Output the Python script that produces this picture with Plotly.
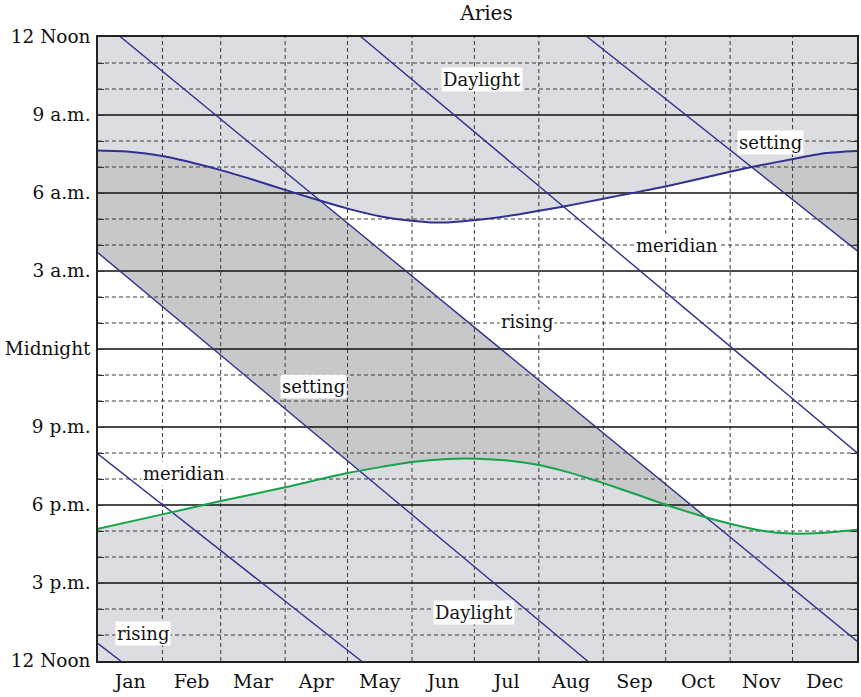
import numpy as np
import plotly.graph_objects as go

# ---------------- data ----------------
title_text = "Aries"
month_names = ["Jan", "Feb", "Mar", "Apr", "May", "Jun",
               "Jul", "Aug", "Sep", "Oct", "Nov", "Dec"]
month_days = [31, 28, 31, 30, 31, 30, 31, 31, 30, 31, 30, 31]
hour_ticks = [0, 3, 6, 9, 12, 15, 18, 21, 24]
hour_labels = ["12 Noon", "3 p.m.", "6 p.m.", "9 p.m.", "Midnight",
               "3 a.m.", "6 a.m.", "9 a.m.", "12 Noon"]

# hours after noon (0..24), day of year (0..365)
sunrise_day = [0, 15, 31, 59, 75, 90, 107, 120, 136, 152, 160, 168, 182,
               200, 212, 224, 243, 257, 274, 305, 315, 335, 350, 365]
sunrise_hour = [19.63, 19.59, 19.42, 18.88, 18.50, 18.12, 17.70, 17.40, 17.10,
                16.92, 16.87, 16.87, 16.96, 17.15, 17.32, 17.48, 17.78, 18.00,
                18.27, 18.84, 19.01, 19.32, 19.54, 19.62]

sunset_day = [0, 31, 59, 90, 120, 151, 168, 182, 197, 212, 222, 232, 243,
              258, 273, 291, 304, 318, 334, 347, 365]
sunset_hour = [5.09, 5.64, 6.15, 6.68, 7.23, 7.65, 7.77, 7.78, 7.71, 7.54,
               7.35, 7.12, 6.84, 6.43, 6.01, 5.56, 5.28, 5.03, 4.90, 4.92, 5.05]

# unwrapped event times (hours after noon, may exceed 24)
rising_day = [0, 10.9, 365]
rising_hour = [24.67, 24.0, 0.76]
meridian_day = [0, 126.6, 365]
meridian_hour = [31.96, 24.0, 8.01]
setting_day = [0, 235.4, 365]
setting_hour = [39.70, 24.0, 15.78]

label_text = ["Daylight", "Daylight", "setting", "setting",
              "meridian", "meridian", "rising", "rising"]
label_day = [184.5, 180.8, 323.5, 103.5, 278.3, 41.5, 206.2, 21.8]
label_hour = [22.37, 1.88, 19.93, 10.55, 16.0, 7.23, 13.05, 1.05]

# ---------------- styles ----------------
LIGHT = "#dcdde0"
DARK = "#c7c8ca"
BLUE = "#2e3192"
GREEN = "#17a34a"
GRID = "#3a3a3a"
FONT = "DejaVu Serif"

fig = go.Figure()

# dark band: night-time, constellation below horizon (between setting and next rising)
band_days = sorted(set(rising_day) | set(setting_day))
upper = np.interp(band_days, rising_day, rising_hour) + 24
lower = np.interp(band_days, setting_day, setting_hour)
for k in (-48, -24, 0):
    xs = list(band_days) + list(band_days[::-1])
    ys = list(upper + k) + list((lower + k)[::-1])
    fig.add_trace(go.Scatter(x=xs, y=ys, mode="lines", fill="toself",
                             fillcolor=DARK, line=dict(width=0),
                             hoverinfo="skip", showlegend=False))

SPL = dict(shape="spline", smoothing=0.6)

# daylight (morning side: above sunrise to the top)
fig.add_trace(go.Scatter(x=[0, 365], y=[24, 24], mode="lines",
                         line=dict(width=0), hoverinfo="skip", showlegend=False))
fig.add_trace(go.Scatter(x=sunrise_day, y=sunrise_hour, mode="lines",
                         line=dict(width=0, **SPL),
                         fill="tonexty", fillcolor=LIGHT,
                         hoverinfo="skip", showlegend=False))
# daylight (afternoon side: below sunset)
fig.add_trace(go.Scatter(x=sunset_day, y=sunset_hour, mode="lines",
                         line=dict(width=0, **SPL),
                         fill="tozeroy", fillcolor=LIGHT,
                         hoverinfo="skip", showlegend=False))

# grid lines
bounds = list(np.cumsum(month_days)[:-1])
gx, gy = [], []
for b in bounds:
    gx += [b, b, None]
    gy += [0, 24, None]
for h in range(1, 24):
    if h % 3:
        gx += [0, 365, None]
        gy += [h, h, None]
fig.add_trace(go.Scatter(x=gx, y=gy, mode="lines",
                         line=dict(color=GRID, width=1, dash="4px,3px"),
                         hoverinfo="skip", showlegend=False))
sx, sy = [], []
for h in hour_ticks[1:-1]:
    sx += [0, 365, None]
    sy += [h, h, None]
fig.add_trace(go.Scatter(x=sx, y=sy, mode="lines",
                         line=dict(color="#111111", width=1.3),
                         hoverinfo="skip", showlegend=False))

# rising / meridian / setting lines (wrapped every 24 h)
for dd, hh in ((rising_day, rising_hour), (meridian_day, meridian_hour),
               (setting_day, setting_hour)):
    for k in (-24, 0):
        fig.add_trace(go.Scatter(x=dd, y=[v + k for v in hh], mode="lines",
                                 line=dict(color=BLUE, width=1.4),
                                 hoverinfo="skip", showlegend=False))

# sunrise / sunset curves
fig.add_trace(go.Scatter(x=sunrise_day, y=sunrise_hour, mode="lines",
                         line=dict(color=BLUE, width=2, **SPL),
                         hoverinfo="skip", showlegend=False))
fig.add_trace(go.Scatter(x=sunset_day, y=sunset_hour, mode="lines",
                         line=dict(color=GREEN, width=2, **SPL),
                         hoverinfo="skip", showlegend=False))

for t, d, h in zip(label_text, label_day, label_hour):
    fig.add_annotation(x=d, y=h, text=t, showarrow=False,
                       font=dict(family=FONT, size=18, color="#111111"),
                       bgcolor="white", borderpad=1)

month_centers = [c - m / 2 for c, m in zip(np.cumsum(month_days), month_days)]

fig.update_layout(
    width=861, height=697,
    margin=dict(l=98, r=4, t=37, b=36, autoexpand=False),
    paper_bgcolor="white", plot_bgcolor="white",
    title=dict(text=title_text, x=0.565, xref="container", xanchor="center",
               y=0.981, yanchor="middle", yref="container",
               font=dict(family=FONT, size=20, color="#111111")),
    xaxis=dict(range=[0, 365], showgrid=False, zeroline=False, automargin=False,
               tickmode="array", tickvals=month_centers, ticktext=month_names,
               ticks="", showline=True, mirror=True, linecolor="#222222",
               linewidth=1.5, ticklabelstandoff=2,
               tickfont=dict(family=FONT, size=19, color="#111111")),
    yaxis=dict(range=[0, 24], showgrid=False, zeroline=False, automargin=False,
               tickmode="array", tickvals=hour_ticks, ticktext=hour_labels,
               ticks="inside", ticklen=6, tickcolor="#333333",
               minor=dict(dtick=1, ticks="inside", ticklen=6, tickcolor="#333333"),
               showline=True, mirror="ticks", linecolor="#222222", linewidth=1.5,
               ticklabelstandoff=2,
               tickfont=dict(family=FONT, size=18.5, color="#111111")),
)

fig.write_html("out.html",
               config={"displayModeBar": False},
               post_script="document.body.style.margin='0px';"
                           "document.body.style.padding='0px';")
